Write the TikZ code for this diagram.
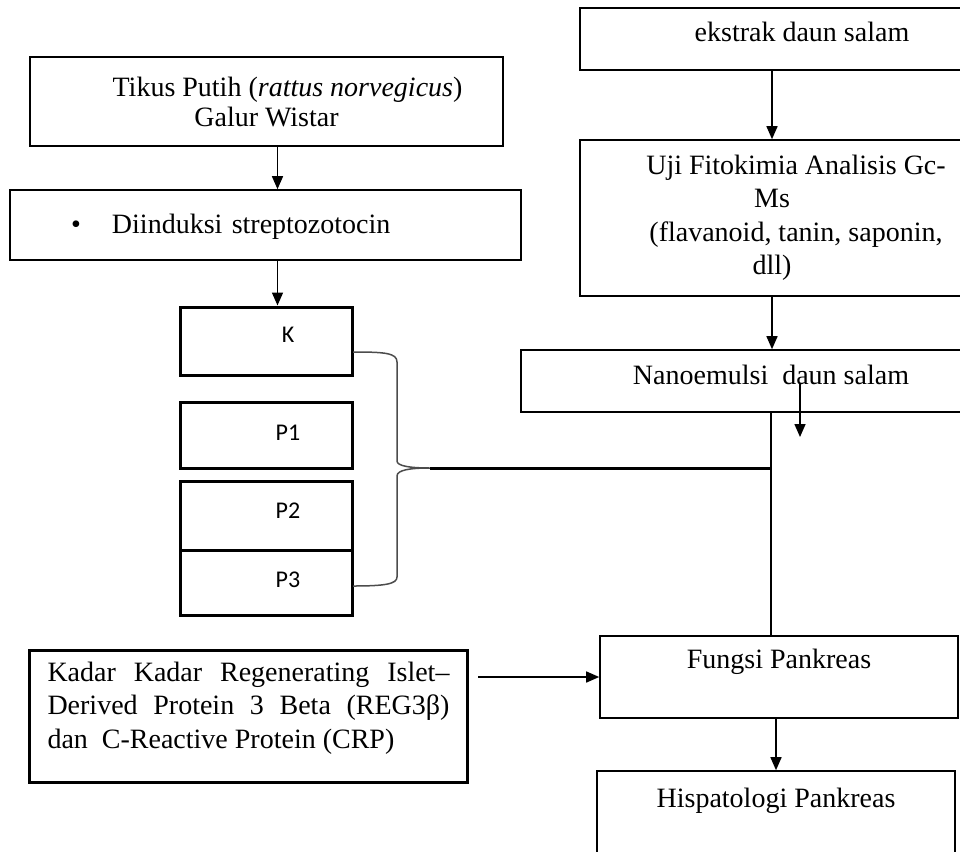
\documentclass[tikz,border=0pt]{standalone}
\usepackage{fontspec}
\setmainfont{Liberation Serif}
\setsansfont{Carlito}
\usetikzlibrary{arrows.meta}

\begin{document}
\begin{tikzpicture}[
    x=1pt, y=-1pt,
    box/.style={draw, line width=1.6pt, inner sep=0pt, align=center,
                font=\fontsize{28}{33.5}\selectfont},
    grp/.style={draw, line width=3pt, inner sep=0pt, minimum width=172pt,
                text depth=6pt, font=\sffamily\fontsize{24}{28}\selectfont},
    arr/.style={-{Triangle[width=11pt,length=13pt]}, line width=1.5pt},
    lnk/.style={line width=1.5pt},
  ]
    \clip (0,0) rectangle (960,851);

    % Tikus
    \node[box, minimum width=473pt, minimum height=89pt,
          font=\fontsize{28}{30}\selectfont] (tikus) at (266.5,101.5)
          {\hspace*{42pt}Tikus Putih (\textit{rattus norvegicus})\\Galur Wistar};
    \node[box, text width=511pt, align=left, minimum height=70pt, text depth=2pt] (induksi) at (265.5,225)
          {\hspace*{61pt}\makebox[41pt][l]{•}Diinduksi streptozotocin};

    % Kelompok
    \node[grp, minimum height=68pt, text depth=12pt] (grpK) at (266,341) {\hspace*{44pt}K};
    \node[grp, minimum height=66pt, text depth=4pt]  (grpP1) at (266,435) {\hspace*{44pt}P1};
    \node[grp, minimum height=69pt, text depth=9pt]  (grpP2) at (266,515.5) {\hspace*{44pt}P2};
    \node[grp, minimum height=65pt, text depth=5pt]  (grpP3) at (266,582.5) {\hspace*{44pt}P3};

    % Kadar
    \node[box, line width=3pt, text width=402pt, align=justify, inner xsep=18pt,
          minimum height=132pt, text depth=89pt] (kadar) at (248.5,716)
          {Kadar Kadar Regenerating Islet–\linebreak
           Derived Protein 3 Beta (REG3β)\linebreak
           dan\ \ C-Reactive Protein (CRP)};

    % Daun salam
    \node[box, minimum width=384pt, minimum height=62pt, text depth=15pt] (ekstrak) at (772,39)
          {\hspace*{60pt}ekstrak daun salam};
    \node[box, minimum width=384pt, minimum height=156pt] (uji) at (772,218)
          {\hspace*{48pt}Uji Fitokimia Analisis Gc-\\Ms\\
           \hspace*{48pt}(flavanoid, tanin, saponin,\\dll)};
    \node[box, minimum width=500pt, minimum height=62pt, text depth=13pt] (nano) at (771,381)
          {Nanoemulsi\ \ daun salam};

    % Pankreas
    \node[box, minimum width=358pt, minimum height=82pt, text depth=37pt] (fungsi) at (779,677)
          {Fungsi Pankreas};
    \node[box, minimum width=358pt, minimum height=90pt, text depth=37pt] (hispat) at (776,816)
          {Hispatologi Pankreas};

    % Arrows
    \draw[arr] ([xshift=11pt]tikus.south) -- ([xshift=11pt]tikus.south |- induksi.north);
    \draw[arr] ([xshift=12pt]induksi.south) -- ([xshift=12pt]induksi.south |- grpK.north);
    \draw[arr] (ekstrak.south) -- (uji.north);
    \draw[arr] (uji.south) -- (uji.south |- nano.north);
    \coordinate (strayend) at (800,437);
    \draw[arr] ([xshift=29pt,yshift=-2pt]nano.center) -- (strayend);

    % Brace
    \coordinate (brtip) at (430,468);
    \draw[line width=1.5pt, black!70] (353,352) .. controls (385,352) and (397,353) .. (397,362)
        -- (397,461) .. controls (397,466) and (410,468) .. (brtip)
        .. controls (410,468) and (397,470) .. (397,476)
        -- (397,577) .. controls (397,584) and (385,586) .. (353,586);
    \draw[line width=3pt] (brtip) -- (nano.south |- brtip);

    \draw[lnk] (nano.south) -- (nano.south |- fungsi.north);
    \draw[arr] ([xshift=9pt]kadar.east |- fungsi.west) -- (fungsi.west);
    \draw[arr] (fungsi.south -| hispat.north) -- (hispat.north);
  \end{tikzpicture}
\end{document}
